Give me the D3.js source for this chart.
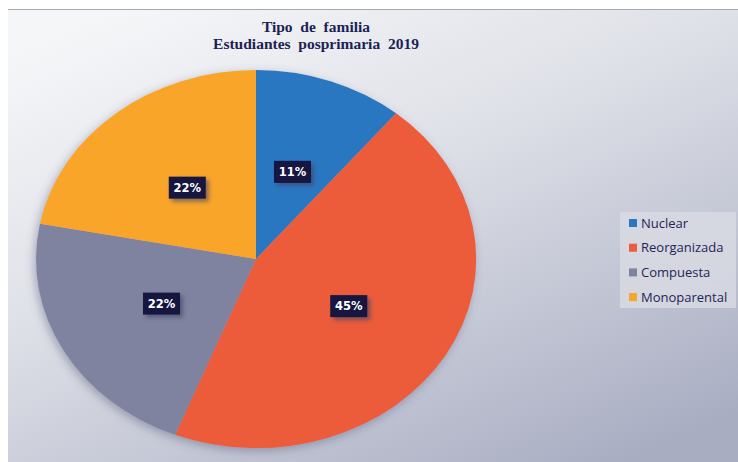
<!DOCTYPE html>
<html>
<head>
<meta charset="utf-8">
<script src="https://cdn.jsdelivr.net/npm/d3@7"></script>
<style>
  body { margin: 0; background: #fff; }
  svg { display: block; }
</style>
</head>
<body>
<div id="chart-area"></div>
<script>
// data
var categories = ["Nuclear", "Reorganizada", "Compuesta", "Monoparental"];
var values = [11, 45, 22, 22];
var colors = ["#2c77c1", "#ec5b3b", "#7f839f", "#f8a52c"];
var titleLines = ["Tipo  de  familia", "Estudiantes  posprimaria  2019"];

var width = 738, height = 462;

var svg = d3.select("#chart-area").append("svg")
    .attr("width", width)
    .attr("height", height);

var defs = svg.append("defs");
var grad = defs.append("linearGradient")
    .attr("id", "bg")
    .attr("x1", "15%").attr("y1", "0%")
    .attr("x2", "85%").attr("y2", "100%");
grad.append("stop").attr("offset", "0%").attr("stop-color", "#f5f6f8");
grad.append("stop").attr("offset", "40%").attr("stop-color", "#dfe1e8");
grad.append("stop").attr("offset", "100%").attr("stop-color", "#a9adc2");

var shadow = defs.append("filter").attr("id", "pieShadow")
    .attr("x", "-10%").attr("y", "-10%").attr("width", "120%").attr("height", "120%");
shadow.append("feDropShadow").attr("dx", -2).attr("dy", 3)
    .attr("stdDeviation", 5).attr("flood-color", "#555a78").attr("flood-opacity", 0.45);

var boxShadow = defs.append("filter").attr("id", "boxShadow")
    .attr("x", "-30%").attr("y", "-30%").attr("width", "170%").attr("height", "170%");
boxShadow.append("feDropShadow").attr("dx", 3).attr("dy", 3)
    .attr("stdDeviation", 2).attr("flood-color", "#3a3f66").attr("flood-opacity", 0.6);

// chart frame
svg.append("rect")
    .attr("x", 8).attr("y", 9)
    .attr("width", width - 8).attr("height", height - 9)
    .attr("fill", "url(#bg)");
svg.append("line")
    .attr("x1", 8).attr("x2", width).attr("y1", 9.5).attr("y2", 9.5)
    .attr("stroke", "#a3a7b8").attr("stroke-width", 1);

// title
var title = svg.append("text")
    .attr("x", 316).attr("y", 32)
    .attr("text-anchor", "middle")
    .attr("xml:space", "preserve")
    .style("white-space", "pre")
    .style("font-family", "'Liberation Serif', 'DejaVu Serif', serif")
    .style("font-weight", "bold")
    .style("font-size", "15.5px")
    .style("fill", "#1c1f55");
title.selectAll("tspan")
    .data(titleLines)
    .enter().append("tspan")
    .attr("x", 316)
    .attr("dy", (d, i) => i === 0 ? 0 : 17)
    .text(d => d);

// pie
var cx = 256, cy = 259, rx = 220, ry = 189;
var pie = d3.pie().sort(null).value(d => d);
var arc = d3.arc().innerRadius(0).outerRadius(1);
var arcs = pie(values);

var pieGroup = svg.append("g")
    .attr("filter", "url(#pieShadow)");
var slices = pieGroup.append("g")
    .attr("transform", "translate(" + cx + "," + cy + ") scale(" + rx + "," + ry + ")");
slices.selectAll("path")
    .data(arcs)
    .enter().append("path")
    .attr("d", arc)
    .attr("fill", (d, i) => colors[i]);

// data labels
var labelArc = d3.arc().innerRadius(0.49).outerRadius(0.49);
var labels = svg.append("g").selectAll("g")
    .data(arcs)
    .enter().append("g")
    .attr("transform", function(d) {
        var c = labelArc.centroid(d);
        return "translate(" + (cx + c[0] * rx) + "," + (cy + c[1] * ry) + ")";
    });
labels.append("rect")
    .attr("x", -18.5).attr("y", -11)
    .attr("width", 37).attr("height", 22)
    .attr("fill", "#12133f")
    .attr("filter", "url(#boxShadow)");
labels.append("text")
    .attr("text-anchor", "middle")
    .attr("dy", "0.36em")
    .style("font-family", "'DejaVu Sans', sans-serif")
    .style("font-weight", "bold")
    .style("font-size", "11.5px")
    .style("fill", "#ffffff")
    .text(d => d.data + "%");

// legend
var legend = svg.append("g").attr("transform", "translate(620,212)");
legend.append("rect")
    .attr("width", 116).attr("height", 96)
    .attr("fill", "#d9dbe4").attr("opacity", 0.8);
var items = legend.selectAll("g.item")
    .data(categories)
    .enter().append("g")
    .attr("class", "item")
    .attr("transform", (d, i) => "translate(9," + (11 + i * 24.7) + ")");
items.append("rect")
    .attr("x", 0).attr("y", -4)
    .attr("width", 8).attr("height", 8)
    .attr("fill", (d, i) => colors[i]);
items.append("text")
    .attr("x", 12).attr("dy", "0.35em")
    .style("font-family", "'Open Sans', 'Noto Sans', sans-serif")
    .style("font-size", "13px")
    .style("fill", "#1f2458")
    .text(d => d);
</script>
</body>
</html>
